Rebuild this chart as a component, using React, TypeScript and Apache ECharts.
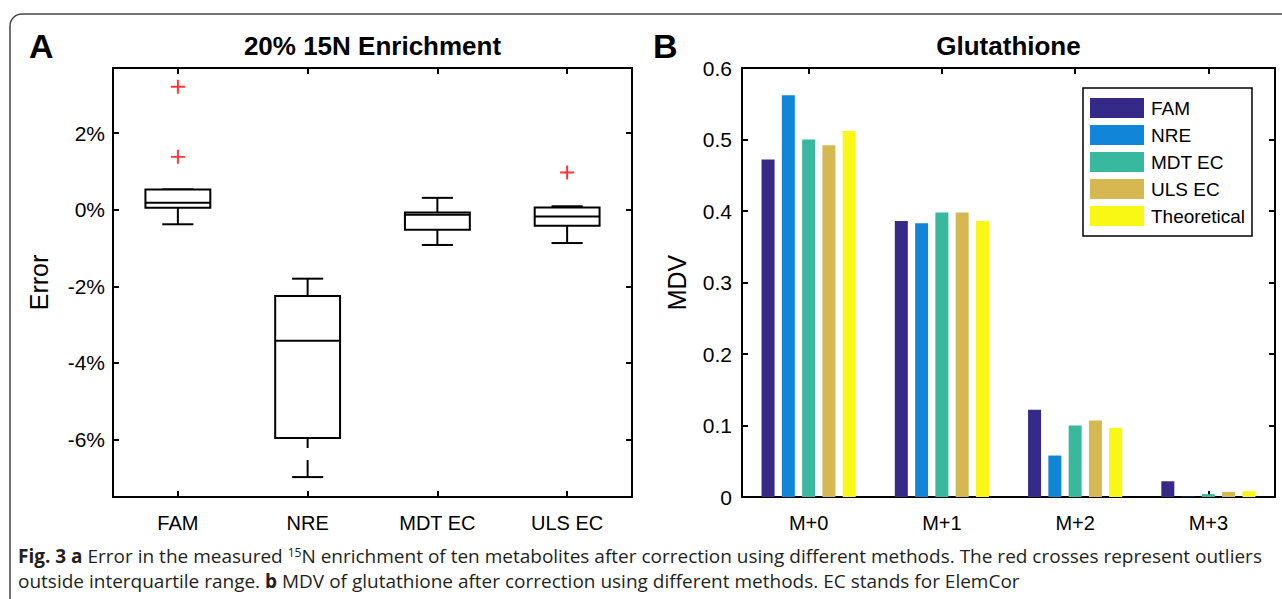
import React, { useEffect, useRef } from "react";
import * as echarts from "echarts";

// ---- Panel A: box plot data (Error, %) ----
const boxCategories = ["FAM", "NRE", "MDT EC", "ULS EC"];
// [lower whisker, Q1, median, Q3, upper whisker]
const famStats = [-0.38, 0.05, 0.18, 0.53, 0.53];
const nreStats = [-6.98, -5.96, -3.42, -2.25, -1.8];
const mdtStats = [-0.92, -0.52, -0.13, -0.07, 0.31];
const ulsStats = [-0.87, -0.42, -0.18, 0.06, 0.09];
const boxStats = [famStats, nreStats, mdtStats, ulsStats];
// [category index, value]
const outliers = [
  [0, 3.21],
  [0, 1.38],
  [3, 0.97],
];
const errorTicks = [-6, -4, -2, 0, 2];

// ---- Panel B: grouped bars (MDV) ----
const massCategories = ["M+0", "M+1", "M+2", "M+3"];
const methods = ["FAM", "NRE", "MDT EC", "ULS EC", "Theoretical"];
const famValues = [0.472, 0.386, 0.122, 0.022];
const nreValues = [0.562, 0.383, 0.058, 0.0004];
const mdtValues = [0.5, 0.398, 0.1, 0.004];
const ulsValues = [0.492, 0.398, 0.107, 0.007];
const theoreticalValues = [0.512, 0.386, 0.097, 0.008];
const methodValues = [famValues, nreValues, mdtValues, ulsValues, theoreticalValues];
const methodColors = ["#352a87", "#1185d8", "#38b99e", "#d5b852", "#f8f814"];

const FONT = "'Liberation Sans', Arial, Helvetica, sans-serif";
const CAPTION_FONT = "'Open Sans', 'Noto Sans', sans-serif";

function axisBase(extra: any = {}) {
  return {
    axisLine: { show: true, onZero: false, lineStyle: { color: "#000", width: 2 } },
    axisTick: { show: true, inside: true, length: 6, lineStyle: { color: "#000", width: 2 } },
    splitLine: { show: false },
    ...extra,
  };
}

export default function App() {
  const ref = useRef<HTMLDivElement>(null);

  useEffect(() => {
    if (!ref.current) return;
    const chart = echarts.init(ref.current, undefined, { renderer: "svg" });

    const catX = (data: string[], gridIndex: number, position: string, showLabel: boolean) => ({
      type: "category",
      gridIndex,
      data,
      position,
      ...axisBase(),
      axisTick: { show: true, inside: true, alignWithLabel: true, length: 6, lineStyle: { color: "#000", width: 2 } },
      axisLabel: { show: showLabel, color: "#000", fontSize: 20, fontFamily: FONT, margin: 16 },
    });

    const option: any = {
      animation: false,
      backgroundColor: "#fff",
      textStyle: { fontFamily: FONT },
      grid: [
        { left: 113, top: 68, width: 519, height: 429 },
        { left: 742, top: 68, width: 533, height: 429 },
      ],
      xAxis: [
        catX(boxCategories, 0, "bottom", true),
        catX(boxCategories, 0, "top", false),
        catX(massCategories, 1, "bottom", true),
        catX(massCategories, 1, "top", false),
      ],
      yAxis: [
        {
          type: "value",
          gridIndex: 0,
          position: "left",
          min: -7.5,
          max: 3.7,
          ...axisBase(),
          axisTick: { show: true, inside: true, length: 6, customValues: errorTicks, lineStyle: { color: "#000", width: 2 } },
          axisLabel: { customValues: errorTicks, formatter: "{value}%", color: "#000", fontSize: 21, fontFamily: FONT, margin: 8 },
          name: "Error",
          nameLocation: "middle",
          nameGap: 62,
          nameTextStyle: { color: "#000", fontSize: 25, fontFamily: FONT },
        },
        {
          type: "value",
          gridIndex: 0,
          position: "right",
          min: -7.5,
          max: 3.7,
          ...axisBase(),
          axisTick: { show: true, inside: true, length: 6, customValues: errorTicks, lineStyle: { color: "#000", width: 2 } },
          axisLabel: { show: false },
        },
        {
          type: "value",
          gridIndex: 1,
          position: "left",
          min: 0,
          max: 0.6,
          interval: 0.1,
          ...axisBase(),
          axisLabel: { color: "#000", fontSize: 21, fontFamily: FONT, margin: 10 },
          name: "MDV",
          nameLocation: "middle",
          nameGap: 53,
          nameTextStyle: { color: "#000", fontSize: 25, fontFamily: FONT },
        },
        {
          type: "value",
          gridIndex: 1,
          position: "right",
          min: 0,
          max: 0.6,
          interval: 0.1,
          ...axisBase(),
          axisLabel: { show: false },
        },
      ],
      legend: {
        data: methods,
        orient: "vertical",
        left: 1083,
        top: 88,
        icon: "rect",
        itemWidth: 54,
        itemHeight: 20,
        itemGap: 7,
        padding: [10, 7, 10, 7],
        borderColor: "#000",
        borderWidth: 1.5,
        backgroundColor: "#fff",
        textStyle: { color: "#000", fontSize: 19, fontFamily: FONT, padding: [0, 0, 0, 2] },
      },
      series: [
        {
          type: "custom",
          name: "box",
          xAxisIndex: 0,
          yAxisIndex: 0,
          data: boxStats.map((s, i) => [i, ...s]),
          encode: { x: 0, y: [1, 2, 3, 4, 5] },
          renderItem: (params: any, api: any) => {
            const i = api.value(0);
            const lo = api.coord([i, api.value(1)]);
            const q1 = api.coord([i, api.value(2)]);
            const med = api.coord([i, api.value(3)]);
            const q3 = api.coord([i, api.value(4)]);
            const hi = api.coord([i, api.value(5)]);
            const band = api.size([1, 0])[0];
            const bw = band * 0.5;
            const cw = bw * 0.48;
            const x = lo[0];
            const st = { stroke: "#000", lineWidth: 2, fill: null };
            const dash = { ...st, lineDash: [17, 12] };
            return {
              type: "group",
              children: [
                { type: "line", shape: { x1: x, y1: hi[1], x2: x, y2: q3[1] }, style: dash },
                { type: "line", shape: { x1: x, y1: lo[1], x2: x, y2: q1[1] }, style: dash },
                { type: "line", shape: { x1: x - cw / 2, y1: hi[1], x2: x + cw / 2, y2: hi[1] }, style: st },
                { type: "line", shape: { x1: x - cw / 2, y1: lo[1], x2: x + cw / 2, y2: lo[1] }, style: st },
                {
                  type: "rect",
                  shape: { x: x - bw / 2, y: q3[1], width: bw, height: q1[1] - q3[1] },
                  style: { stroke: "#000", lineWidth: 2, fill: "#fff" },
                },
                { type: "line", shape: { x1: x - bw / 2, y1: med[1], x2: x + bw / 2, y2: med[1] }, style: st },
              ],
            };
          },
        },
        {
          type: "scatter",
          name: "outliers",
          xAxisIndex: 0,
          yAxisIndex: 0,
          data: outliers,
          symbol: "path://M4.3,0H5.7V4.3H10V5.7H5.7V10H4.3V5.7H0V4.3H4.3Z",
          symbolSize: 14,
          itemStyle: { color: "#ff0000" },
        },
        ...methods.map((m, k) => ({
          type: "bar",
          name: m,
          xAxisIndex: 2,
          yAxisIndex: 2,
          data: methodValues[k],
          barWidth: 13,
          barGap: "56%",
          itemStyle: { color: methodColors[k] },
        })),
      ],
      graphic: [
        {
          type: "rect",
          shape: { x: 10, y: 14, width: 1300, height: 640, r: 12 },
          style: { fill: "none", stroke: "#444", lineWidth: 1.5 },
          z: 0,
        },
        {
          type: "text",
          x: 29,
          y: 46,
          style: { text: "A", font: `bold 34px ${FONT}`, fill: "#000", textVerticalAlign: "middle" },
        },
        {
          type: "text",
          x: 653,
          y: 46,
          style: { text: "B", font: `bold 34px ${FONT}`, fill: "#000", textVerticalAlign: "middle" },
        },
        {
          type: "text",
          x: 372.5,
          y: 46,
          style: {
            text: "20% 15N Enrichment",
            font: `bold 26px ${FONT}`,
            fill: "#000",
            textAlign: "center",
            textVerticalAlign: "middle",
          },
        },
        {
          type: "text",
          x: 1008.5,
          y: 46,
          style: {
            text: "Glutathione",
            font: `bold 26px ${FONT}`,
            fill: "#000",
            textAlign: "center",
            textVerticalAlign: "middle",
          },
        },
        {
          type: "text",
          x: 18,
          y: 556,
          style: {
            text:
              "{b|Fig. 3 a} Error in the measured {sup|15}N enrichment of ten metabolites after correction using different methods. The red crosses represent outliers",
            fontFamily: CAPTION_FONT,
            fontSize: 19,
            fill: "#231f20",
            textVerticalAlign: "middle",
            rich: {
              b: { fontWeight: "bold", fontFamily: CAPTION_FONT, fontSize: 19, fill: "#231f20" },
              sup: { fontFamily: CAPTION_FONT, fontSize: 12, verticalAlign: "top", fill: "#231f20" },
            },
          },
        },
        {
          type: "text",
          x: 18,
          y: 581,
          style: {
            text:
              "outside interquartile range. {b|b} MDV of glutathione after correction using different methods. EC stands for ElemCor",
            fontFamily: CAPTION_FONT,
            fontSize: 19,
            fill: "#231f20",
            textVerticalAlign: "middle",
            rich: {
              b: { fontWeight: "bold", fontFamily: CAPTION_FONT, fontSize: 19, fill: "#231f20" },
            },
          },
        },
      ],
    };

    chart.setOption(option);
    return () => chart.dispose();
  }, []);

  return (
    <div
      ref={ref}
      style={{ position: "fixed", left: 0, top: 0, width: 1282, height: 599, background: "#fff" }}
    />
  );
}
